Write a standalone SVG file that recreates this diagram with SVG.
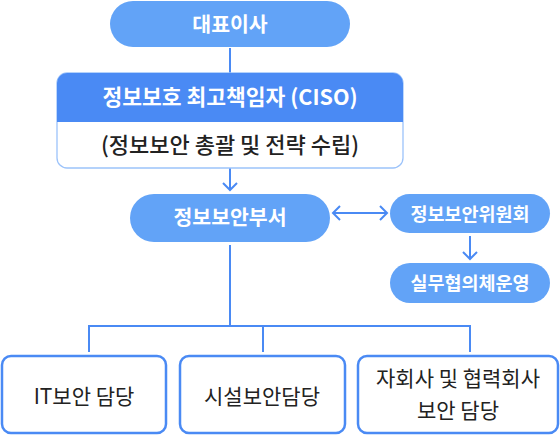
<svg xmlns="http://www.w3.org/2000/svg" width="560" height="435" viewBox="0 0 560 435">
<style>
.pill{fill:#62a3f7}
.w{fill:#fff;font-family:"Noto Sans CJK KR","Noto Sans",sans-serif;font-weight:700;text-anchor:middle}
.d{fill:#222;font-family:"Noto Sans CJK KR","Noto Sans",sans-serif;text-anchor:middle}
.ln{stroke:#4a8af4;stroke-width:2;fill:none}
.box{fill:#fff;stroke:#4a8af4;stroke-width:2.5}
</style>
<defs>
<marker id="ah" viewBox="0 0 16 16" refX="13" refY="8" markerWidth="16" markerHeight="16" markerUnits="userSpaceOnUse" orient="auto-start-reverse">
<path d="M6,1 L13,8 L6,15" fill="none" stroke="#4a8af4" stroke-width="2"/>
</marker>
</defs>
<g id="connectors">
<line class="ln" x1="230" y1="48" x2="230" y2="73"/>
<line class="ln" x1="230" y1="168" x2="230" y2="190" marker-end="url(#ah)"/>
<line class="ln" x1="333" y1="213" x2="387" y2="213" marker-start="url(#ah)" marker-end="url(#ah)"/>
<line class="ln" x1="470" y1="236" x2="470" y2="259" marker-end="url(#ah)"/>
<polyline class="ln" points="230,245 230,326"/>
<polyline class="ln" points="89,352 89,326 470,326 470,352"/>
<line class="ln" x1="263" y1="326" x2="263" y2="352"/>
</g>
<g id="ceo">
<rect class="pill" x="110" y="1" width="240" height="46" rx="23"/>
<text class="w" x="230" y="32" font-size="20.5">대표이사</text>
</g>
<g id="ciso">
<rect x="57" y="73" width="346" height="95" rx="10" fill="#fff" stroke="#9cc3fa" stroke-width="1.3"/>
<path d="M57,122 V83 a10,10 0 0 1 10,-10 H393 a10,10 0 0 1 10,10 V122 Z" fill="#4a8af4"/>
<text class="w" x="230" y="105" font-size="21.5">정보보호 최고책임자 (CISO)</text>
<text class="d" x="230" y="153" font-size="22" style="font-weight:500">(정보보안 총괄 및 전략 수립)</text>
</g>
<g id="dept">
<rect class="pill" x="130" y="194" width="200" height="48" rx="24"/>
<text class="w" x="230" y="225" font-size="20.5">정보보안부서</text>
</g>
<g id="committee">
<rect class="pill" x="390" y="194" width="160" height="39" rx="19.5"/>
<text class="w" x="470" y="221" font-size="18.5">정보보안위원회</text>
</g>
<g id="working">
<rect class="pill" x="390" y="263" width="160" height="40" rx="20"/>
<text class="w" x="470" y="290" font-size="18.5">실무협의체운영</text>
</g>
<g id="it">
<rect class="box" x="2" y="356" width="164" height="77" rx="9"/>
<text class="d" x="84" y="404" font-size="21" style="font-weight:400">IT보안 담당</text>
</g>
<g id="facility">
<rect class="box" x="180" y="356" width="165" height="77" rx="9"/>
<text class="d" x="262" y="404" font-size="21" style="font-weight:400">시설보안담당</text>
</g>
<g id="partner">
<rect class="box" x="358" y="356" width="200" height="77" rx="9"/>
<text class="d" x="458" y="386" font-size="21" style="font-weight:400">자회사 및 협력회사</text>
<text class="d" x="458" y="418" font-size="21" style="font-weight:400">보안 담당</text>
</g>
</svg>
